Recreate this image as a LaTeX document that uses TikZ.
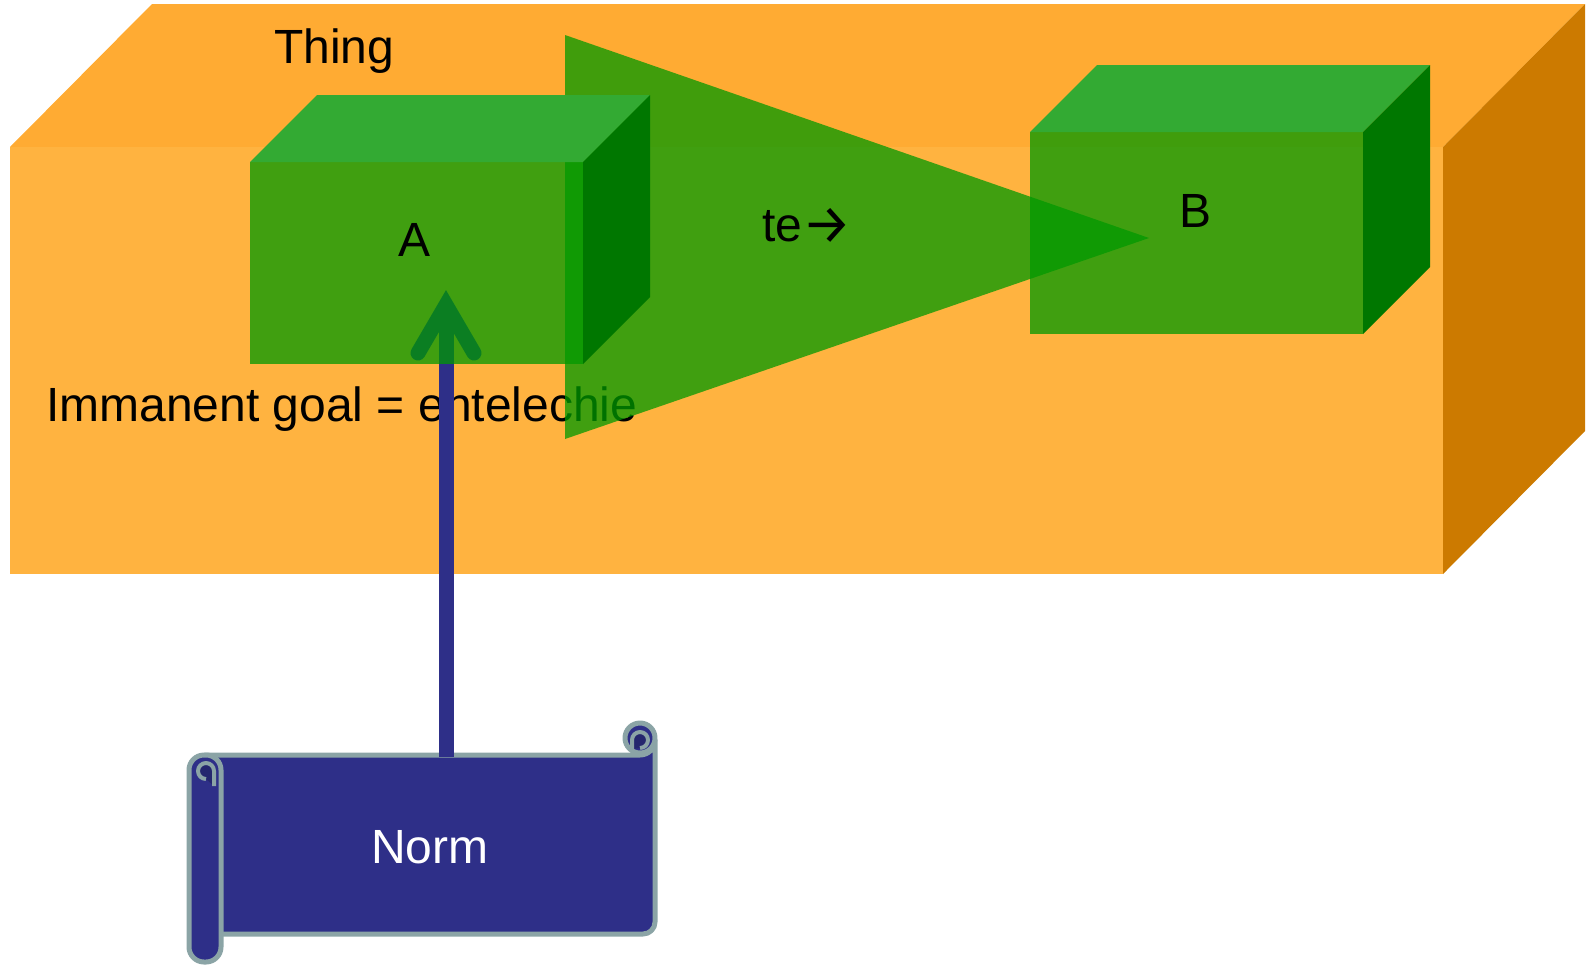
\documentclass[tikz,border=0pt]{standalone}
\usepackage{fontspec}
\setmainfont{Liberation Sans}
\newfontfamily\arrowfont{Fira Sans}
\definecolor{orTop}{HTML}{FFAB33}
\definecolor{orFront}{HTML}{FFB340}
\definecolor{orSide}{HTML}{CC7A00}
\definecolor{gFront}{HTML}{009900}
\definecolor{gTop}{HTML}{33AA33}
\definecolor{gSide}{HTML}{007700}
\definecolor{nblue}{HTML}{2E2F88}
\definecolor{nline}{HTML}{8BA4A6}
\definecolor{ndark}{HTML}{25276E}
\tikzset{
  lbl/.style={font=\fontsize{48}{48}\selectfont, inner sep=0pt, text=black},
  scrollpart/.style={fill=nblue, draw=nline, line width=5pt, line join=round},
  scrollcurl/.style={fill=ndark, draw=nline, line width=4pt, line join=round},
  greenfront/.style={fill=gFront, fill opacity=0.75},
  bluearrow/.style={draw=nblue, line width=15pt}
}
\begin{document}
\begin{tikzpicture}[x=1pt,y=-1pt]
\useasboundingbox (0,0) rectangle (1590,964);
% orange "Thing" block
\fill[orTop] (10,147) -- (152,4) -- (1585,4) -- (1443,147) -- cycle;
\fill[orSide] (1443,147) -- (1585,4) -- (1585,431) -- (1443,574) -- cycle;
\fill[orFront] (10,147) rectangle (1443,574);
\node[lbl, anchor=base west] (thing) at (274,63) {Thing};
\node[lbl, anchor=base west] (goal) at (46,421) {Immanent goal = entelechie};
% scroll "Norm"
\path[scrollpart] (205,755) -- (640,755) arc[start angle=90,end angle=0,radius=15]
  -- (655,922) arc[start angle=0,end angle=90,radius=12] -- (205,934) -- cycle;
\path[scrollpart] (640,738) circle[radius=15];
\path[scrollcurl] (632,749) -- (632,740) arc[start angle=180,end angle=360,radius=8]
  arc[start angle=0,end angle=90,radius=8];
\path[scrollpart, rounded corners=15pt] (189,755) rectangle (221,962);
\path[scrollcurl] (214,786) -- (214,771) arc[start angle=0,end angle=-180,radius=8]
  arc[start angle=180,end angle=90,radius=8];
\node[lbl, text=white, anchor=base] (norm) at (430,863) {Norm};
% arrow from Norm into A
\coordinate (arrowstart) at (446,757);
\coordinate (arrowtip) at (446,305);
\coordinate (wingL) at (418,353);
\coordinate (wingR) at (474,353);
\draw[bluearrow] (arrowstart) -- ([yshift=-1pt]arrowtip);
\draw[bluearrow, line cap=round, line join=miter] (wingL) -- (arrowtip) -- (wingR);
% big green triangle arrow
\fill[greenfront] (565,35) -- (1149,238) -- (565,439) -- cycle;
% box A
\fill[greenfront] (250,162) rectangle (583,364);
\fill[gTop] (250,162) -- (317,95) -- (650,95) -- (583,162) -- cycle;
\fill[gSide] (583,162) -- (650,95) -- (650,297) -- (583,364) -- cycle;
% box B
\fill[greenfront] (1030,132) rectangle (1363,334);
\fill[gTop] (1030,132) -- (1097,65) -- (1430,65) -- (1363,132) -- cycle;
\fill[gSide] (1363,132) -- (1430,65) -- (1430,267) -- (1363,334) -- cycle;
% labels
\node[lbl, anchor=base] (A) at (415,256) {A};
\node[lbl, anchor=base] (B) at (1195,227) {B};
\node[lbl, anchor=base west] (te) at (762,241) {te{\arrowfont\fontsize{55}{55}\selectfont\raisebox{-2.5pt}{→}}};
\end{tikzpicture}
\end{document}
